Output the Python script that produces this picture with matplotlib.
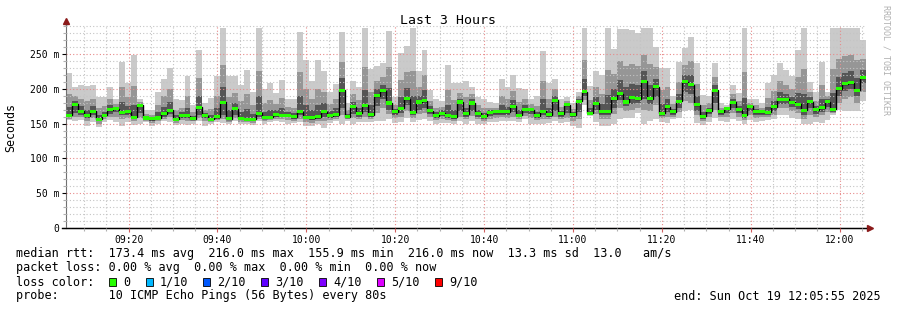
import datetime as dt
import numpy as np
import matplotlib
matplotlib.use("Agg")
import matplotlib.pyplot as plt
import matplotlib.dates as mdates
from matplotlib.patches import Rectangle

END_TIME = dt.datetime(2025, 10, 19, 12, 5, 55)
STEP_SEC = 80  # one probe round every 80s

# median rtt per round (ms)
median_ms = [
    162, 178, 168, 161, 168, 156, 162, 170, 171, 166,
    167, 159, 176, 158, 157, 158, 164, 169, 155.9, 161,
    161, 157, 173.5, 161, 156.5, 160, 180.5, 157, 171, 157.4,
    156.5, 156, 165, 158.4, 159.3, 162.6, 161.7, 162, 160, 166.7,
    159, 158.6, 160, 167, 161.4, 163, 198, 160, 174, 165,
    176, 163, 189.7, 197, 179.6, 166.7, 172, 186, 166, 181,
    183, 168.6, 161, 164.8, 161, 160, 181, 164, 179.6, 164.8,
    160.5, 166, 166.7, 166.7, 167, 175, 162, 170.5, 169.6, 161,
    168, 163, 183.5, 164, 177, 163, 182, 195.5, 165, 179,
    166.7, 166.7, 185.4, 192.6, 181, 188, 186, 211, 186, 203,
    165, 174, 167, 182, 210, 206, 177, 160.5, 168.6, 198,
    166.7, 171, 180.6, 169.6, 162, 175, 166.7, 166.7, 166, 174,
    185, 185, 180.6, 178, 169, 181.5, 169.6, 173, 181.5, 170.5,
    200, 207.4, 209, 198, 216,
]

# smoke: slowest / fastest ping of each round
max_ms = [
    222, 203, 205, 204, 205, 188, 188, 203, 185, 239,
    209, 249, 186, 170, 170, 196, 214, 230, 185, 184,
    218, 177, 256, 179, 187, 218, 287, 218, 218, 206,
    227, 196, 287, 199, 209, 194, 213, 186, 186, 281,
    242, 211, 241, 225, 195, 207, 281, 180, 211, 203,
    287, 229, 233, 237, 283, 188, 252, 262, 287, 225,
    256, 198, 185, 183, 234, 209, 208, 211, 203, 188,
    185, 181, 180, 214, 203, 220, 201, 200, 186, 190,
    254, 209, 214, 185, 188, 180, 196, 287, 204, 226,
    220, 287, 257, 286, 286, 285, 280, 287, 287, 260,
    230, 230, 189, 238, 258, 275, 237, 191, 189, 237,
    179, 177, 206, 194, 287, 186, 186, 179, 208, 220,
    237, 227, 218, 256, 287, 210, 196, 238, 196, 287,
    287, 287, 287, 287, 270,
]
min_ms = [
    155, 153, 155, 146, 152, 145, 152, 155, 152, 147,
    152, 148, 150, 152, 147, 150, 153, 152, 148, 150,
    148, 150, 153, 146, 150, 152, 151, 150, 153, 149,
    150, 148, 153, 150, 152, 154, 152, 150, 151, 152,
    147, 146, 149, 144, 151, 153, 150, 154, 150, 152,
    152, 152, 154, 153, 156, 151, 152, 158, 152, 155,
    156, 153, 150, 151, 151, 150, 153, 150, 154, 150,
    150, 152, 152, 154, 153, 154, 152, 156, 150, 150,
    150, 151, 153, 151, 152, 147, 143, 176, 161, 152,
    147, 146, 150, 157, 158, 158, 165, 150, 153, 156,
    152, 151, 156, 158, 168, 170, 151, 148, 152, 158,
    153, 152, 156, 153, 150, 155, 152, 154, 155, 157,
    163, 162, 158, 156, 150, 150, 152, 151, 155, 162,
    170, 168, 168, 168, 182,
]

# middle smoke band
mid_lo = [
    157, 160, 159, 153, 158, 150, 156, 160, 160, 157,
    158, 153, 158, 154, 151, 153, 157, 159, 151, 155,
    154, 153, 158, 153, 152, 155, 156, 152, 158, 152,
    152, 151, 157, 153, 155, 157, 156, 155, 154, 157,
    152, 151, 153, 153, 155, 157, 162, 156, 158, 157,
    160, 156, 165, 172, 164, 158, 160, 168, 158, 164,
    165, 160, 155, 157, 155, 154, 160, 156, 161, 156,
    154, 157, 158, 159, 158, 160, 156, 161, 158, 155,
    157, 156, 160, 156, 158, 154, 156, 184, 162, 164,
    157, 156, 164, 173, 168, 170, 172, 170, 168, 176,
    158, 160, 160, 166, 182, 180, 162, 153, 159, 170,
    160, 160, 165, 160, 155, 162, 158, 159, 159, 163,
    172, 172, 168, 165, 157, 163, 160, 162, 167, 165,
    180, 186, 188, 180, 196,
]
mid_hi = [
    192, 190, 186, 182, 186, 172, 175, 186, 178, 202,
    188, 204, 181, 164, 163, 177, 189, 200, 170, 172,
    189, 167, 215, 170, 171, 189, 234, 188, 194, 182,
    192, 176, 226, 179, 184, 178, 187, 174, 173, 224,
    200, 185, 200, 196, 178, 185, 239, 170, 192, 184,
    231, 196, 211, 217, 231, 177, 212, 224, 226, 203,
    220, 183, 173, 174, 198, 184, 194, 188, 192, 177,
    172, 173, 173, 190, 185, 197, 181, 185, 178, 175,
    211, 186, 199, 174, 182, 171, 189, 241, 184, 202,
    193, 227, 221, 240, 233, 236, 233, 249, 236, 231,
    198, 202, 178, 210, 234, 240, 207, 176, 179, 217,
    173, 174, 193, 182, 224, 180, 176, 173, 187, 197,
    211, 206, 199, 217, 228, 196, 183, 205, 189, 229,
    243, 247, 248, 242, 243,
]

# inner (dark) smoke band
dark_lo = [
    159, 165, 163, 158, 163, 153, 159, 164, 166, 162,
    163, 156, 165, 156, 154, 155, 160, 164, 153, 158,
    158, 155, 163, 158, 154, 157, 162, 155, 162, 155,
    155, 153, 160, 156, 157, 160, 159, 159, 157, 162,
    156, 155, 157, 160, 158, 160, 172, 158, 164, 160,
    166, 159, 175, 185, 170, 162, 165, 176, 162, 170,
    172, 164, 158, 161, 158, 157, 168, 160, 168, 160,
    157, 161, 162, 162, 162, 166, 159, 165, 164, 158,
    162, 159, 168, 160, 165, 159, 166, 190, 163, 170,
    162, 162, 172, 184, 175, 178, 179, 185, 178, 188,
    161, 166, 163, 172, 195, 192, 168, 157, 164, 180,
    163, 165, 172, 165, 158, 168, 163, 163, 162, 168,
    178, 178, 174, 171, 162, 172, 164, 167, 174, 167,
    190, 197, 200, 190, 208,
]
dark_hi = [
    174, 183, 175, 170, 175, 162, 167, 177, 174, 181,
    175, 177, 178, 160, 160, 166, 174, 181, 162, 166,
    172, 161, 190, 165, 162, 172, 202, 169, 180, 167,
    171, 164, 189, 166, 169, 169, 172, 167, 165, 190,
    176, 169, 176, 179, 168, 172, 215, 164, 181, 173,
    198, 176, 199, 205, 201, 171, 188, 201, 190, 190,
    198, 175, 166, 169, 176, 170, 186, 173, 185, 170,
    165, 169, 170, 176, 174, 184, 170, 176, 173, 167,
    185, 172, 190, 168, 179, 166, 185, 214, 173, 188,
    178, 191, 199, 212, 202, 207, 205, 226, 206, 214,
    178, 185, 171, 193, 220, 220, 189, 167, 173, 206,
    169, 172, 186, 175, 187, 177, 171, 169, 174, 183,
    195, 193, 188, 194, 193, 188, 175, 186, 185, 194,
    217, 223, 225, 216, 227,
]

loss_labels = ['0', '1/10', '2/10', '3/10', '4/10', '5/10', '9/10']
loss_colors = ['#26ff00', '#00b8ff', '#0059ff', '#5e00ff', '#7e00ff', '#dd00ff', '#ff0000']

W, H = 897, 310
plt.rcParams['font.family'] = 'DejaVu Sans Mono'


def stepped(v):
    v = np.asarray(v, dtype=float)
    return np.append(v, v[-1])


n = len(median_ms)
edges = mdates.date2num([END_TIME - dt.timedelta(seconds=STEP_SEC * (n - i)) for i in range(n + 1)])

fig = plt.figure(figsize=(W / 100, H / 100), dpi=100)
fig.patch.set_facecolor('white')
ax = fig.add_axes([66 / W, (H - 228) / H, 800 / W, 203 / H])

# smoke
for lo, hi, col in [(min_ms, max_ms, '#cacaca'), (mid_lo, mid_hi, '#969696'), (dark_lo, dark_hi, '#555555')]:
    ax.fill_between(edges, stepped(lo), stepped(hi), step='post', color=col, lw=0, zorder=1)

# median: black step line plus green loss-colour boxes
med = np.asarray(median_ms, dtype=float)
ax.stairs(med, edges, baseline=None, color='black', lw=1, zorder=3)
ax.fill_between(edges, stepped(med - 2.2), stepped(med + 2.2), step='post',
                color=loss_colors[0], lw=0, zorder=4)

ax.set_xlim(edges[0], edges[-1])
ax.set_ylim(0, 291.6)

ax.xaxis.set_major_locator(mdates.MinuteLocator(byminute=[0, 20, 40]))
ax.xaxis.set_minor_locator(mdates.MinuteLocator(byminute=range(0, 60, 5)))
ax.xaxis.set_major_formatter(mdates.DateFormatter('%H:%M'))
ax.set_yticks(range(0, 251, 50))
ax.set_yticklabels(['0'] + [f'{v} m' for v in range(50, 251, 50)])
ax.set_yticks(range(0, 291, 10), minor=True)

ax.set_axisbelow(False)
ax.grid(which='minor', color='#c4c4c4', ls=(0, (1, 2)), lw=0.8)
ax.grid(which='major', color='#e88a8a', ls=(0, (1, 2)), lw=0.8)

ax.tick_params(which='both', direction='out', length=3, width=0.8, labelsize=7, pad=2)
ax.tick_params(axis='x', which='major', color='#d06060')
ax.tick_params(axis='x', which='minor', color='#b0b0b0', length=2)
ax.tick_params(axis='y', which='minor', color='#b0b0b0', length=2)

for side in ['top', 'right']:
    ax.spines[side].set_visible(False)
ax.spines['left'].set_color('#707070')
ax.spines['bottom'].set_color('black')

# axis arrows
ax.plot([0, 0], [1, 1.02], transform=ax.transAxes, color='#707070', lw=1, clip_on=False)
ax.plot(0, 1.022, marker='^', ms=4, color='#8b1a1a', transform=ax.transAxes, clip_on=False)
ax.plot([-0.005, 1.004], [0, 0], transform=ax.transAxes, color='black', lw=1, clip_on=False)
ax.plot(1.005, 0, marker='>', ms=4, color='#8b1a1a', transform=ax.transAxes, clip_on=False)

fig.text(448 / W, 1 - 20 / H, 'Last 3 Hours', ha='center', va='center', fontsize=9.5)
fig.text(11 / W, 1 - 127 / H, 'Seconds', rotation=90, ha='center', va='center', fontsize=8.4)
fig.text(886 / W, 1 - 60 / H, 'RRDTOOL / TOBI OETIKER', rotation=270, ha='center', va='center',
         fontsize=6, color='#b0b0b0')

fs = 8.45
fig.text(16 / W, 1 - 254 / H,
         'median rtt:  173.4 ms avg  216.0 ms max  155.9 ms min  216.0 ms now  13.3 ms sd  13.0   am/s',
         va='center', fontsize=fs)
fig.text(16 / W, 1 - 268 / H, 'packet loss: 0.00 % avg  0.00 % max  0.00 % min  0.00 % now',
         va='center', fontsize=fs)
fig.text(16 / W, 1 - 282 / H, 'loss color:', va='center', fontsize=fs)
box_x = [109, 146, 203, 261, 319, 377, 435]
for bx, lab, col in zip(box_x, loss_labels, loss_colors):
    fig.add_artist(Rectangle((bx / W, 1 - 286 / H), 7 / W, 8 / H, transform=fig.transFigure,
                             facecolor=col, edgecolor='black', lw=0.6))
    fig.text((bx + 14) / W, 1 - 282 / H, lab, va='center', fontsize=fs)
fig.text(16 / W, 1 - 296 / H, 'probe:       10 ICMP Echo Pings (56 Bytes) every 80s',
         va='center', fontsize=fs)
fig.text(881 / W, 1 - 296 / H, 'end: Sun Oct 19 12:05:55 2025', ha='right', va='center', fontsize=fs)

fig.savefig('out.png', dpi=100)
